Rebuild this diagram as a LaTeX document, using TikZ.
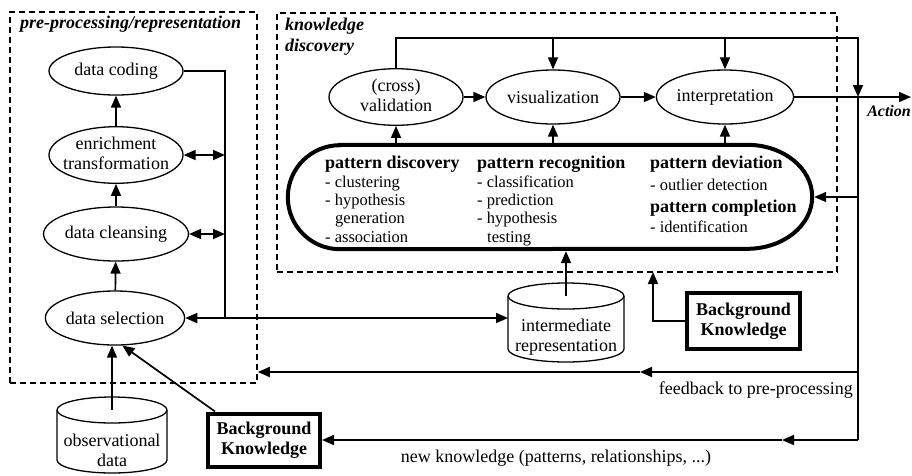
\documentclass[tikz,border=0pt]{standalone}
\usepackage{fontspec}
\setmainfont{Liberation Serif}
\usetikzlibrary{arrows.meta,shapes.geometric}
\newcommand{\zt}[1]{\makebox[0pt]{\begin{tabular}{@{}c@{}}#1\end{tabular}}}
\begin{document}
\begin{tikzpicture}[x=1pt,y=-1pt,
  every node/.style={font=\fontsize{18}{20}\selectfont},
  ell/.style={draw, ellipse, line width=1.3pt, minimum width=134pt, minimum height=54pt, inner sep=0pt},
  ln/.style={line width=1.7pt},
  arr/.style={ln, -{Triangle[length=12pt,width=10pt]}},
  dbl/.style={ln, {Triangle[length=12pt,width=10pt]}-{Triangle[length=12pt,width=10pt]}},
  dbox/.style={draw, dash pattern=on 6pt off 4pt, line width=1.5pt, inner sep=0pt},
  bkbox/.style={draw, line width=4pt, inner sep=0pt, align=center, font=\fontsize{18}{20}\selectfont\bfseries},
  txt/.style={inner sep=0pt, anchor=base west},
  ltxt/.style={txt, font=\fontsize{16.5}{20}\selectfont},
  btxt/.style={txt, font=\fontsize{18}{20}\selectfont\bfseries},
  ttl/.style={txt, font=\fontsize{18}{20}\selectfont\bfseries\itshape},
  acttl/.style={inner sep=0pt, anchor=base east, font=\fontsize{16}{18}\selectfont\bfseries\itshape},
  cyl/.style={line width=1.3pt}
]
\useasboundingbox (0,0) rectangle (912,475);

% dashed frames
\node[dbox, minimum width=247pt, minimum height=371pt] (ppbox) at (133.5,197.5) {};
\node[dbox, minimum width=560pt, minimum height=259pt] (kdbox) at (557,142.5) {};
\node[ttl] (ppttl) at (20,28) {pre-processing/representation};
\node[ttl] (kdttl1) at (285,30) {knowledge};
\node[ttl] (kdttl2) at (285,51) {discovery};

% left column
\node[ell, minimum height=48pt] (coding) at (116,71) {data coding};
\node[ell] (enr) at (116,155) {\zt{enrichment\\transformation}};
\node[ell] (cln) at (116,234) {data cleansing};
\node[ell] (sel) at (115,318) {data selection};

% top row
\node[ell] (valid) at (396,97) {\zt{(cross)\\validation}};
\node[ell] (vis) at (553,97) {visualization};
\node[ell] (interp) at (725,97) {interpretation};

% pattern blob
\node[minimum width=524pt, minimum height=104pt, inner sep=0pt] (blob) at (550,197) {};
\draw[line width=4pt] ([xshift=52pt]blob.north west) -- ([xshift=-65pt]blob.north east)
  arc[start angle=90, end angle=-90, x radius=65pt, y radius=52pt]
  -- ([xshift=52pt]blob.south west)
  arc[start angle=270, end angle=90, x radius=52pt, y radius=52pt] -- cycle;

\node[btxt] (pd1) at (325,168) {pattern discovery};
\node[ltxt] (pd2) at (325,187) {- clustering};
\node[ltxt] (pd3) at (325,205) {- hypothesis};
\node[ltxt] (pd4) at (335,223) {generation};
\node[ltxt] (pd5) at (325,242) {- association};
\node[btxt] (pr1) at (477,168) {pattern recognition};
\node[ltxt] (pr2) at (477,187) {- classification};
\node[ltxt] (pr3) at (477,205) {- prediction};
\node[ltxt] (pr4) at (477,223) {- hypothesis};
\node[ltxt] (pr5) at (487,242) {testing};
\node[btxt] (pv1) at (650,168) {pattern deviation};
\node[ltxt] (pv2) at (650,190) {- outlier detection};
\node[btxt] (pv3) at (650,212) {pattern completion};
\node[ltxt] (pv4) at (650,232) {- identification};

% cylinders
\coordinate (irtop) at (566,296);
\draw[cyl] (508,296) -- (508,349) arc[start angle=180, end angle=360, x radius=58pt, y radius=13pt] -- (624,296);
\draw[cyl] (irtop) ellipse[x radius=58pt, y radius=13pt];
\node[align=center, inner sep=0pt] (irtxt) at (566,337) {intermediate\\representation};
\coordinate (irleft) at (508,318);

\coordinate (obstop) at (112,410);
\draw[cyl] (57,410) -- (57,460) arc[start angle=180, end angle=360, x radius=55pt, y radius=13pt] -- (167,410);
\draw[cyl] (obstop) ellipse[x radius=55pt, y radius=13pt];
\node[align=center, inner sep=0pt] (obstxt) at (112,450) {observational\\data};

% background knowledge boxes
\node[bkbox, minimum width=113pt, minimum height=56pt] (bkr) at (743.5,321) {Background\\Knowledge};
\node[bkbox, minimum width=112pt, minimum height=53pt] (bkl) at (264,440) {Background\\Knowledge};

% left column connectors
\draw[arr] (enr) -- (coding);
\draw[arr] (cln) -- (enr);
\draw[arr] (sel) -- (cln);
\draw[arr] (obstop) -- (obstop |- sel.south);
\draw[arr] ([xshift=9pt]bkl.north west) -- (sel.-75);
\coordinate (jx) at (225,318);
\draw[ln] (coding.east) -| (jx);
\draw[dbl] (enr.east) -- (enr.east -| jx);
\draw[dbl] (cln.east) -- (cln.east -| jx);
\draw[dbl] (sel.east) -- (irleft);

% knowledge discovery connectors
\coordinate (tc) at (858,38);
\coordinate (actj) at (858,97);
\coordinate (actend) at (911,97);
\draw[arr] (valid.north) -- (valid.north |- tc) -- (tc) -- (actj);
\draw[arr] (vis.north |- tc) -- (vis.north);
\draw[arr] (interp.north |- tc) -- (interp.north);
\draw[arr] (valid) -- (vis);
\draw[arr] (vis) -- (interp);
\draw[arr] (interp.east) -- (actend);
\node[acttl] (actlbl) at (911,116) {Action};
\draw[arr, shorten <=2pt] (valid.south |- blob.north) -- (valid.south);
\draw[arr, shorten <=2pt] (vis.south |- blob.north) -- (vis.south);
\draw[arr, shorten <=2pt] (interp.south |- blob.north) -- (interp.south);
\draw[arr, shorten >=2pt] (irtop) -- (irtop |- blob.south);
\coordinate (bkrj) at (653,272);
\draw[arr] (bkr.west) -| (bkrj);

% feedback loops
\coordinate (blobj) at (858,197);
\coordinate (fbR) at (858,372);
\coordinate (fbM) at (640,372);
\coordinate (nkR) at (858,440);
\coordinate (nkM) at (782,440);
\draw[ln] (actj) -- (nkR);
\draw[arr, shorten >=2pt] (blobj) -- (blob.east);
\draw[arr] (fbR) -- (fbM);
\draw[arr] (fbM) -- (ppbox.east |- fbR);
\draw[arr] (nkR) -- (nkM);
\draw[arr] (nkM) -- (bkl.east);
\node[txt, anchor=base east] (fbtxt) at (853,394) {feedback to pre-processing};
\node[txt, anchor=base] (nktxt) at (556,462) {new knowledge (patterns, relationships, ...)};
\end{tikzpicture}
\end{document}
